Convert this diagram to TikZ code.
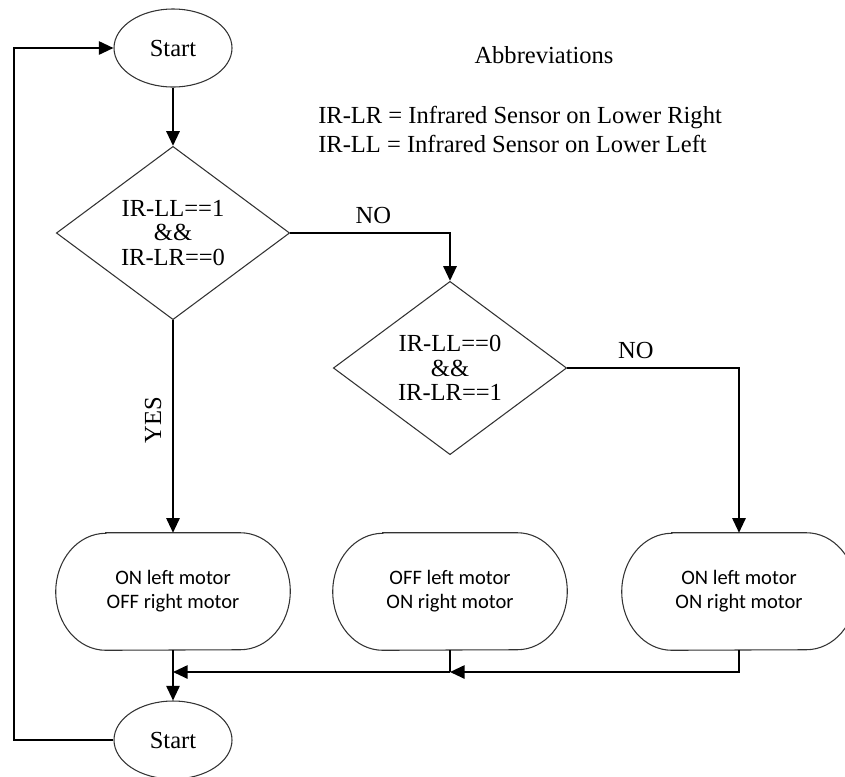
\documentclass[tikz,border=0pt]{standalone}
\usepackage{fontspec}
\setmainfont{Liberation Serif}
\newfontfamily\calibfont{Carlito}
\usetikzlibrary{shapes.geometric,arrows.meta}
\newcommand\stadiumoutline[1]{%
  \draw[draw=black!80,line width=0.8pt]
    ([xshift=37.5pt]#1.north west) -- ([xshift=-37.5pt]#1.north east)
    arc[start angle=90,end angle=-90,x radius=37.5pt,y radius=43.875pt]
    -- ([xshift=37.5pt]#1.south west)
    arc[start angle=270,end angle=90,x radius=37.5pt,y radius=43.875pt]
    -- cycle;}
\begin{document}
\begin{tikzpicture}[x=0.75pt,y=0.75pt,
  every node/.style={font=\fontsize{18.4}{18}\selectfont},
  conn/.style={line width=1.4pt,-{Triangle[length=11pt,width=10pt]}},
  plain/.style={line width=1.4pt},
  oval/.style={ellipse,draw=black!80,line width=0.8pt,minimum width=88.5pt,minimum height=58.5pt,inner sep=0pt},
  cond/.style={diamond,draw=black!80,line width=0.8pt,minimum width=175pt,minimum height=130pt,inner sep=0pt,align=center,font=\fontsize{18.4}{18.5}\selectfont},
  actbox/.style={rectangle,minimum width=175.5pt,minimum height=87.75pt,inner sep=0pt,align=center,font=\calibfont\fontsize{15.4}{18}\selectfont},
  lbl/.style={inner sep=0pt}
]
\useasboundingbox (0,0) rectangle (845,-776);

% nodes
\node[oval] (s1) at (173,-48) {Start};
\node[cond] (d1) at (173,-233) {IR-LL==1\\\&\&\\IR-LR==0};
\node[cond] (d2) at (450,-368) {IR-LL==0\\\&\&\\IR-LR==1};
\node[actbox] (b1) at (173,-591.5) {ON left motor\\OFF right motor};
\node[actbox] (b2) at (450,-591.5) {OFF left motor\\ON right motor};
\node[actbox] (b3) at (739,-591.5) {ON left motor\\ON right motor};
\stadiumoutline{b1}
\stadiumoutline{b2}
\stadiumoutline{b3}
\node[oval] (s2) at (173,-740) {Start};

% abbreviations
\node[lbl] (abbr) at (544,-55) {Abbreviations};
\node[lbl,anchor=base west] (ab1) at (318,-123) {IR-LR = Infrared Sensor on Lower Right};
\node[lbl,anchor=base west] (ab2) at (318,-152) {IR-LL = Infrared Sensor on Lower Left};

% helper coordinates
\coordinate (j1) at (173,-672);
\coordinate (j2) at (450,-672);
\coordinate (lp1) at (14,-740);
\coordinate (lp2) at (14,-48);

% connectors
\draw[conn] (s1) -- (d1.north);
\draw[conn] (d1.east) -| node[pos=0.26,above=6pt,lbl] (no1) {NO} (d2.north);
\draw[conn] (d2.east) -| node[pos=0.2,above=6pt,lbl] (no2) {NO} (b3.north);
\draw[conn] (d1.south) -- node[pos=0.47,left=8pt,lbl,rotate=90,anchor=south] (yes) {YES} (b1.north);
\draw[conn] (b1.south) -- (s2.north);
\draw[plain] (b2.south) -- (j2);
\draw[conn] (b3.south) |- (j2);
\draw[conn] (j2) -- (j1);
\draw[conn] (s2.west) -- (lp1) -- (lp2) -- (s1.west);
\end{tikzpicture}
\end{document}
